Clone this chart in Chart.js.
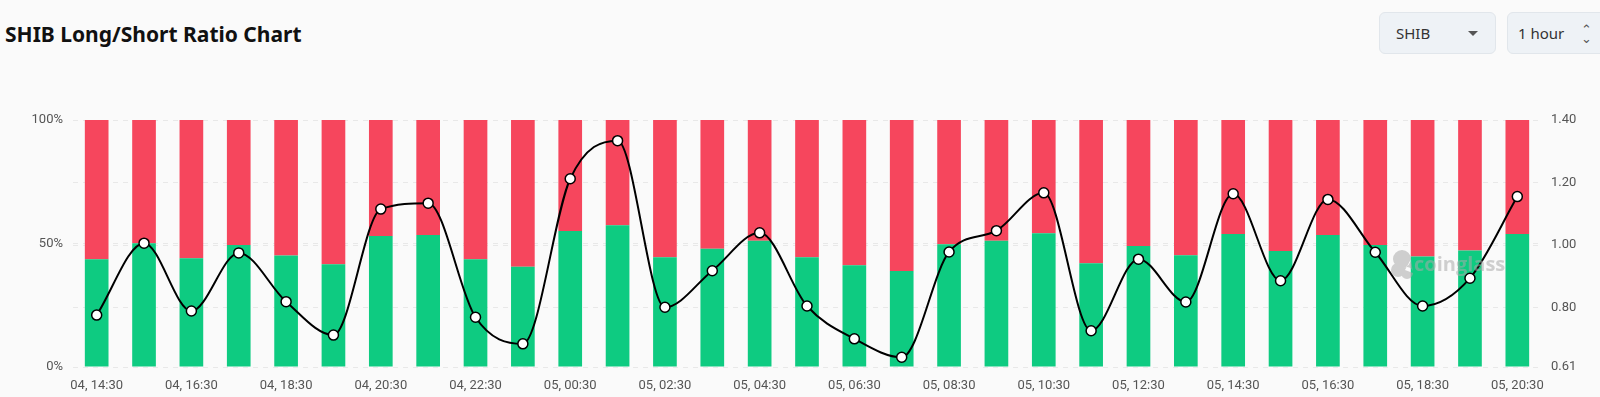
<!DOCTYPE html>
<html lang="en">
  <head>
    <meta charset="UTF-8" />
    <title>SHIB Long/Short Ratio Chart</title>
    <style>
      body {
        margin: 0;
        width: 1600px;
        height: 397px;
        overflow: hidden;
        background: #fafafa;
        font-family: "Noto Sans", "Open Sans", sans-serif;
      }
      h1 {
        position: absolute;
        left: 5px;
        top: 20px;
        margin: 0;
        font-size: 21px;
        font-weight: 700;
        color: #111;
      }
      .select {
        position: absolute;
        top: 12px;
        height: 42px;
        box-sizing: border-box;
        background: #eef2f6;
        border: 1px solid #e1e6eb;
        border-radius: 6px;
        font-size: 15px;
        color: #333;
        line-height: 40px;
        padding-left: 16px;
      }
      #coin { left: 1379px; width: 117px; }
      #coin::after {
        content: "";
        position: absolute;
        right: 17px;
        top: 18px;
        border-left: 5px solid transparent;
        border-right: 5px solid transparent;
        border-top: 5px solid #555;
      }
      #interval { left: 1507px; width: 110px; padding-left: 10px; }
      #interval span {
        position: absolute;
        left: 73px;
        font-size: 13px;
        line-height: 9px;
        color: #555;
      }
      .wrap {
        position: absolute;
        left: 0;
        top: 100px;
        width: 1600px;
        height: 297px;
      }
    </style>
  </head>

  <body>
    <h1>SHIB Long/Short Ratio Chart</h1>
    <div class="select" id="coin">SHIB</div>
    <div class="select" id="interval">1 hour<span style="top:12px">&#8963;</span><span style="top:21px">&#8964;</span></div>
    <div class="wrap"><canvas id="ratioChart"></canvas></div>

    <script src="https://cdn.jsdelivr.net/npm/chart.js"></script>
    <script>
      const times = [
        "04, 14:30", "04, 15:30", "04, 16:30", "04, 17:30", "04, 18:30", "04, 19:30",
        "04, 20:30", "04, 21:30", "04, 22:30", "04, 23:30", "05, 00:30", "05, 01:30",
        "05, 02:30", "05, 03:30", "05, 04:30", "05, 05:30", "05, 06:30", "05, 07:30",
        "05, 08:30", "05, 09:30", "05, 10:30", "05, 11:30", "05, 12:30", "05, 13:30",
        "05, 14:30", "05, 15:30", "05, 16:30", "05, 17:30", "05, 18:30", "05, 19:30",
        "05, 20:30",
      ];
      const longPct = [
        43.6, 50.1, 44.0, 49.4, 45.1, 41.6, 53.0, 53.4, 43.6, 40.6, 55.1, 57.4,
        44.4, 47.9, 51.1, 44.4, 41.2, 38.9, 49.7, 51.1, 54.1, 42.0, 49.0, 45.2,
        53.8, 47.0, 53.4, 49.4, 44.7, 47.2, 53.8,
      ];
      const shortPct = [
        56.4, 49.9, 56.0, 50.6, 54.9, 58.4, 47.0, 46.6, 56.4, 59.4, 44.9, 42.6,
        55.6, 52.1, 48.9, 55.6, 58.8, 61.1, 50.3, 48.9, 45.9, 58.0, 51.0, 54.8,
        46.2, 53.0, 46.6, 50.6, 55.3, 52.8, 46.2,
      ];
      const ratio = [
        0.776, 1.006, 0.789, 0.975, 0.819, 0.712, 1.115, 1.134, 0.769, 0.684, 1.212, 1.334,
        0.801, 0.918, 1.039, 0.805, 0.700, 0.641, 0.978, 1.046, 1.167, 0.726, 0.955, 0.818,
        1.164, 0.886, 1.146, 0.977, 0.805, 0.894, 1.155,
      ];
      const ratioTicks = [0.61, 0.8, 1.0, 1.2, 1.4];

      const tickFont = { family: "Roboto", size: 13 };
      const gridStyle = {
        color: "#e8e8e8",
        drawTicks: false,
      };

      const watermark = {
        id: "watermark",
        afterDatasetsDraw(chart) {
          const ctx = chart.ctx;
          ctx.save();
          ctx.globalAlpha = 0.55;
          ctx.fillStyle = "#a9a9a9";
          ctx.beginPath();
          ctx.arc(1402, 159, 9, 0, Math.PI * 2);
          ctx.arc(1398, 170, 7, 0, Math.PI * 2);
          ctx.arc(1407, 173, 6, 0, Math.PI * 2);
          ctx.fill();
          ctx.font = "bold 20px 'Open Sans'";
          ctx.textBaseline = "middle";
          ctx.fillText("coinglass", 1414, 165);
          ctx.restore();
        },
      };

      const ctx = document.getElementById("ratioChart").getContext("2d");
      new Chart(ctx, {
        data: {
          labels: times,
          datasets: [
            {
              type: "line",
              label: "Long/Short Ratio",
              data: ratio,
              yAxisID: "y1",
              borderColor: "#000",
              borderWidth: 2,
              cubicInterpolationMode: "monotone",
              pointRadius: 5,
              pointBorderWidth: 1.5,
              pointBackgroundColor: "#fff",
              pointBorderColor: "#000",
              order: 0,
            },
            {
              type: "bar",
              label: "Long",
              data: longPct,
              yAxisID: "y",
              backgroundColor: "#0ecb81",
              categoryPercentage: 1,
              barPercentage: 0.5,
              order: 1,
            },
            {
              type: "bar",
              label: "Short",
              data: shortPct,
              yAxisID: "y",
              backgroundColor: "#f6465d",
              categoryPercentage: 1,
              barPercentage: 0.5,
              order: 1,
            },
          ],
        },
        options: {
          responsive: true,
          maintainAspectRatio: false,
          animation: false,
          layout: { padding: { top: 20, left: 0, right: 0, bottom: 0 } },
          plugins: {
            legend: { display: false },
            tooltip: { enabled: false },
          },
          scales: {
            x: {
              stacked: true,
              grid: { display: false },
              border: { display: false },
              ticks: {
                font: tickFont,
                color: "#555",
                padding: 3,
                autoSkip: false,
                maxRotation: 0,
                callback: function (v, i) {
                  return i % 2 === 0 ? times[i] : "";
                },
              },
              afterFit(scale) {
                scale.height = 30;
              },
            },
            y: {
              stacked: true,
              position: "left",
              min: 0,
              max: 100,
              border: { display: false, dash: [5, 5] },
              grid: gridStyle,
              ticks: {
                stepSize: 50,
                font: tickFont,
                color: "#555",
                padding: 10,
                callback: (v) => v + "%",
              },
              afterFit(scale) {
                scale.width = 73;
              },
            },
            y1: {
              position: "right",
              min: 0.61,
              max: 1.4,
              border: { display: false, dash: [5, 5] },
              grid: gridStyle,
              afterBuildTicks(scale) {
                scale.ticks = ratioTicks.map((v) => ({ value: v }));
              },
              ticks: {
                font: tickFont,
                color: "#555",
                padding: 10,
                callback: (v) => Number(v).toFixed(2),
              },
              afterFit(scale) {
                scale.width = 59;
              },
            },
          },
        },
        plugins: [watermark],
      });
    </script>
  </body>
</html>
